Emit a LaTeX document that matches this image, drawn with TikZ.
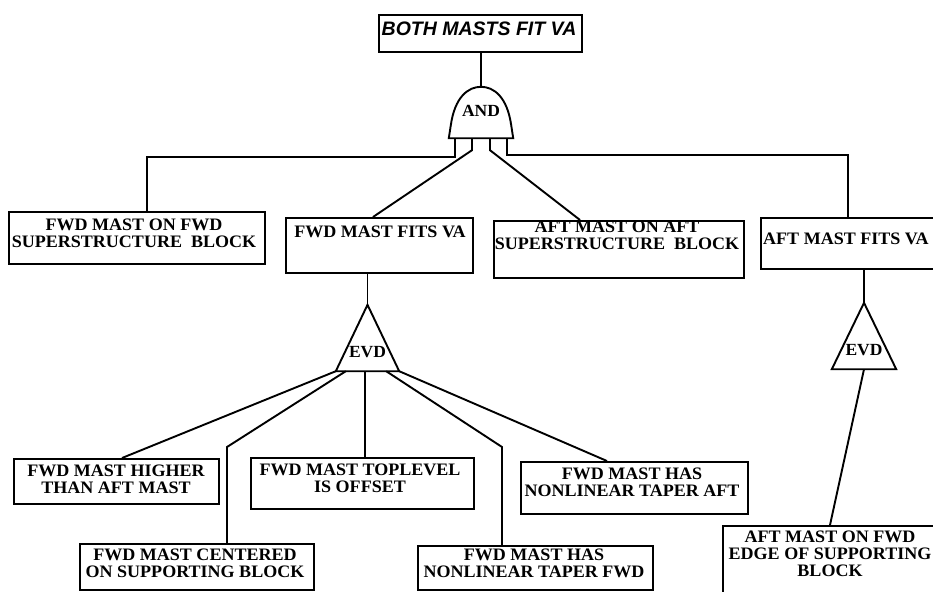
\documentclass[tikz,border=0pt]{standalone}
\usepackage{fontspec}
\usetikzlibrary{calc}
\newfontfamily\boxfont[FakeStretch=1.03]{Liberation Serif}
\newfontfamily\topfont{Liberation Sans}
\tikzset{
  box/.style={draw, line width=1.9pt, inner sep=0pt, anchor=north west},
  txt/.style={inner sep=0pt, align=center, font=\boxfont\bfseries\fontsize{17.5}{17}\selectfont},
  gatetxt/.style={inner sep=0pt, anchor=base, font=\boxfont\bfseries\fontsize{17}{17}\selectfont},
  wire/.style={line width=1.9pt, line join=miter}
}
\begin{document}
\begin{tikzpicture}[x=1pt,y=-1pt]
\path[use as bounding box, clip] (0,0) rectangle (933,591);
\fill[white] (0,0) rectangle (933,591);

% boxes
\node[box, minimum width=203pt, minimum height=37pt] (top) at (378,14) {};
\node[txt, font=\topfont\bfseries\itshape\fontsize{19.5}{21}\selectfont] (top-t) at (479,29) {BOTH MASTS FIT VA};

\node[box, minimum width=256pt, minimum height=52pt] (fwdon) at (8,211) {};
\node[txt] (fwdon-t) at (134,233.5) {FWD MAST ON FWD\\SUPERSTRUCTURE\ \ BLOCK};

\node[box, minimum width=187pt, minimum height=55pt] (fwdfits) at (285,217) {};
\node[txt] (fwdfits-t) at (380,231.5) {FWD MAST FITS VA};

\node[box, minimum width=250pt, minimum height=57pt] (aftonaft) at (493,220) {};
\node[txt] (aftonaft-t) at (617,235) {AFT MAST ON AFT\\SUPERSTRUCTURE\ \ BLOCK};

\node[box, minimum width=200pt, minimum height=51pt] (aftfits) at (760,217) {};
\node[txt, anchor=west] (aftfits-t) at (763,239) {AFT MAST FITS VA};

\node[box, minimum width=205pt, minimum height=45pt] (higher) at (13,458) {};
\node[txt] (higher-t) at (116,479) {FWD MAST HIGHER\\THAN AFT MAST};

\node[box, minimum width=223pt, minimum height=51pt] (toplevel) at (250,457) {};
\node[txt] (toplevel-t) at (360,478.5) {FWD MAST TOPLEVEL\\IS OFFSET};

\node[box, minimum width=234pt, minimum height=46pt] (centered) at (79,543) {};
\node[txt] (centered-t) at (195,563) {FWD MAST CENTERED\\ON SUPPORTING BLOCK};

\node[box, minimum width=235pt, minimum height=44pt] (taperfwd) at (417,545) {};
\node[txt] (taperfwd-t) at (534,563.5) {FWD MAST HAS\\NONLINEAR TAPER FWD};

\node[box, minimum width=227pt, minimum height=52pt] (taperaft) at (520,461) {};
\node[txt] (taperaft-t) at (632,482) {FWD MAST HAS\\NONLINEAR TAPER AFT};

\node[box, minimum width=230pt, minimum height=80pt] (aftonfwd) at (722,525) {};
\node[txt] (aftonfwd-t) at (830,554) {AFT MAST ON FWD\\EDGE OF SUPPORTING\\BLOCK};

% AND gate
\node[gatetxt, text height=30pt, text depth=21pt, minimum width=64pt] (and) at (481,117) {AND};
\draw[wire] (and.south west) -- ($(and.south west)+(2,-13)$)
  .. controls +(4,-28) and +(-13,0) .. (and.north)
  .. controls +(13,0) and +(-4,-28) .. ($(and.south east)+(-2,-13)$)
  -- (and.south east) -- cycle;

% EVD gates
\node[gatetxt, text height=52pt, text depth=14pt, minimum width=63pt] (evd1) at (367.5,357) {EVD};
\draw[wire] (evd1.south west) -- (evd1.north) -- (evd1.south east) -- cycle;
\node[gatetxt, text height=52pt, text depth=14pt, minimum width=64pt] (evd2) at (864,355) {EVD};
\draw[wire] (evd2.south west) -- (evd2.north) -- (evd2.south east) -- cycle;

% connectors
\draw[wire] (and.north |- top.south) -- (and.north);
\draw[wire] ([xshift=-26pt]and.south) -- ++(0,19) -| ([xshift=139pt]fwdon.north west);
\draw[wire] ([xshift=-9pt]and.south) -- ++(0,12) -- ([xshift=88pt]fwdfits.north west);
\draw[wire] ([xshift=9pt]and.south) -- ++(0,12) -- ([xshift=87pt]aftonaft.north west);
\draw[wire] ([xshift=26pt]and.south) -- ++(0,17) -| ([xshift=88pt]aftfits.north west);

\draw[wire] (evd1.north |- fwdfits.south) -- (evd1.north);
\draw[wire] (evd1.south west) -- ([xshift=109pt]higher.north west);
\draw[wire] ([xshift=10pt]evd1.south west) -- ($(centered.north west)+(148,-96)$) -- ([xshift=148pt]centered.north west);
\draw[wire] ([xshift=-2.5pt]evd1.south) -- ([xshift=115pt]toplevel.north west);
\draw[wire] ([xshift=-13pt]evd1.south east) -- ($(taperfwd.north west)+(85,-98)$) -- ([xshift=85pt]taperfwd.north west);
\draw[wire] (evd1.south east) -- ([xshift=87pt]taperaft.north west);

\draw[wire] (evd2.north |- aftfits.south) -- (evd2.north);
\draw[wire] (evd2.south) -- ([xshift=108pt]aftonfwd.north west);
\end{tikzpicture}
\end{document}
